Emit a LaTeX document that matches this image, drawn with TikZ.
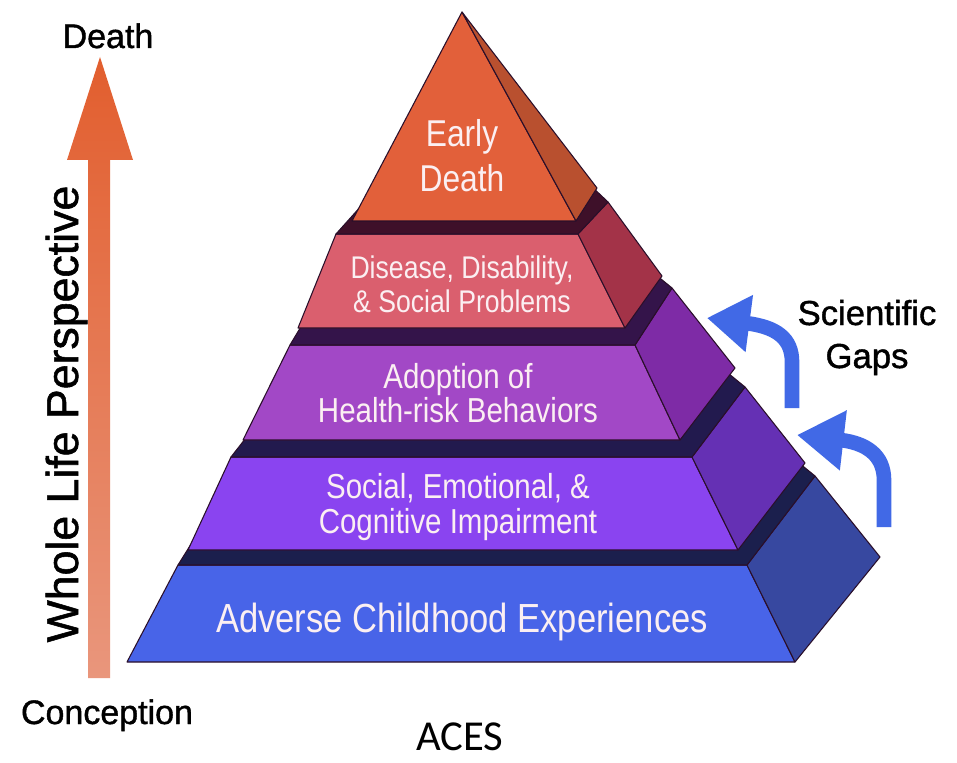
\documentclass[tikz,border=0pt]{standalone}
\usepackage{fontspec}
\setmainfont{Liberation Sans}
\newfontfamily\pyrfont{Liberation Sans}[FakeStretch=0.85]
\newfontfamily\lblfont{Liberation Sans}[FakeBold=1.2]
\newfontfamily\acesfont{Carlito}
\usetikzlibrary{arrows.meta}
\definecolor{edgec}{HTML}{2A0F2A}
\definecolor{txtc}{HTML}{FBEFF2}
\definecolor{orF}{HTML}{E2603A}
\definecolor{orS}{HTML}{B9502F}
\definecolor{pinkF}{HTML}{DA5F6E}
\definecolor{pinkS}{HTML}{A33348}
\definecolor{pinkT}{HTML}{3E1029}
\definecolor{purF}{HTML}{A248C6}
\definecolor{purS}{HTML}{7E2BA6}
\definecolor{purT}{HTML}{34144A}
\definecolor{vioF}{HTML}{8A44F0}
\definecolor{vioS}{HTML}{6530B4}
\definecolor{vioT}{HTML}{221A4E}
\definecolor{bluF}{HTML}{4864E8}
\definecolor{bluS}{HTML}{3748A0}
\definecolor{bluT}{HTML}{1B1F4D}
\definecolor{gapc}{HTML}{4169E6}
\definecolor{lifeTopc}{HTML}{E25E2E}
\definecolor{lifeBotc}{HTML}{E9967C}
\begin{document}
\begin{tikzpicture}[x=0.75pt,y=-0.75pt,
  face/.style={draw=edgec, line width=0.8pt, line join=round},
  ptxt/.style={text=txtc, font=\pyrfont\fontsize{#1}{#1}\selectfont, anchor=base, inner sep=0pt},
  lbl/.style={text=black, font=\lblfont\fontsize{#1}{#1}\selectfont, anchor=base, inner sep=0pt},
  gaparrow/.style={draw=gapc, line width=#1}]
\useasboundingbox (0,0) rectangle (957,763);
\fill[white] (0,0) rectangle (957,763);

% ---- Layer 5: blue
\draw[face, fill=bluF] (178,565) -- (747,565) -- (795,662) -- (127,662) -- cycle;
\draw[face, fill=bluS] (747,565) -- (815,476) -- (880,557) -- (795,662) -- cycle;
\draw[face, fill=bluT] (178,565) -- (747,565) -- (815,476) -- (793,458) -- (245,458) -- cycle;
% ---- Layer 4: violet
\draw[face, fill=vioF] (231,457) -- (692,457) -- (738,550) -- (188,550) -- cycle;
\draw[face, fill=vioS] (692,457) -- (745,387) -- (805,463) -- (738,550) -- cycle;
\draw[face, fill=vioT] (231,457) -- (692,457) -- (745,387) -- (723,369) -- (300,369) -- cycle;
% ---- Layer 3: purple
\draw[face, fill=purF] (290,345) -- (635,345) -- (680,440) -- (243,440) -- cycle;
\draw[face, fill=purS] (635,345) -- (672,288) -- (735,368) -- (680,440) -- cycle;
\draw[face, fill=purT] (290,345) -- (635,345) -- (672,288) -- (650,270) -- (335,270) -- cycle;
% ---- Layer 2: pink
\draw[face, fill=pinkF] (336,234) -- (578,234) -- (625,328) -- (298,328) -- cycle;
\draw[face, fill=pinkS] (578,234) -- (608,202) -- (662,276) -- (625,328) -- cycle;
\draw[face, fill=pinkT] (336,234) -- (578,234) -- (608,202) -- (590,185) -- (380,185) -- cycle;
% ---- Layer 1: top triangle
\draw[face, fill=orF] (462,12) -- (576,221) -- (352,221) -- cycle;
\draw[face, fill=orS] (462,12) -- (597,188) -- (576,221) -- cycle;

% ---- pyramid texts
\node[ptxt=28] (early1) at (462,147) {Early};
\node[ptxt=28] (early2) at (462,192) {Death};
\node[ptxt=23.5] (dis1) at (462,278) {Disease, Disability,};
\node[ptxt=23.5] (dis2) at (462,312) {\& Social Problems};
\node[ptxt=26] (adop1) at (458,388) {Adoption of};
\node[ptxt=26] (adop2) at (458,422) {Health-risk Behaviors};
\node[ptxt=26] (soc1) at (458,498) {Social, Emotional, \&};
\node[ptxt=26] (soc2) at (458,533) {Cognitive Impairment};
\node[ptxt=30.5] (ace) at (462,632) {Adverse Childhood Experiences};

% ---- whole life arrow
\shade[top color=lifeTopc, bottom color=lifeBotc]
  (88,678) -- (88,160) -- (67,160) -- (100,57) -- (133,160) -- (110,160) -- (110,678) -- cycle;
\node[lbl=25.5] (death) at (108,48) {Death};
\node[lbl=25.5] (concep) at (107,724) {Conception};
\node[lbl=33.5, rotate=90] (wlp) at (78,414) {Whole Life Perspective};

% ---- scientific gaps arrows
\coordinate (g1tail) at (792,408);
\coordinate (g1tip) at (707,318);
\coordinate (g2tail) at (884,527);
\coordinate (g2tip) at (797,435);
\draw[gaparrow=11pt, -{Triangle[length=32pt,width=41pt]}]
  (g1tail) -- (792,362) .. controls (792,338) and (776,327) .. (g1tip);
\draw[gaparrow=11pt, -{Triangle[length=35pt,width=43pt]}]
  (g2tail) -- (884,480) .. controls (884,455) and (866,443) .. (g2tip);
\node[lbl=26] (sci1) at (867,325) {Scientific};
\node[lbl=26] (sci2) at (867,368) {Gaps};

% ---- caption
\node[text=black, font=\acesfont\fontsize{32}{32}\selectfont, anchor=base, inner sep=0pt] (aces) at (460,750) {ACES};
\end{tikzpicture}
\end{document}
